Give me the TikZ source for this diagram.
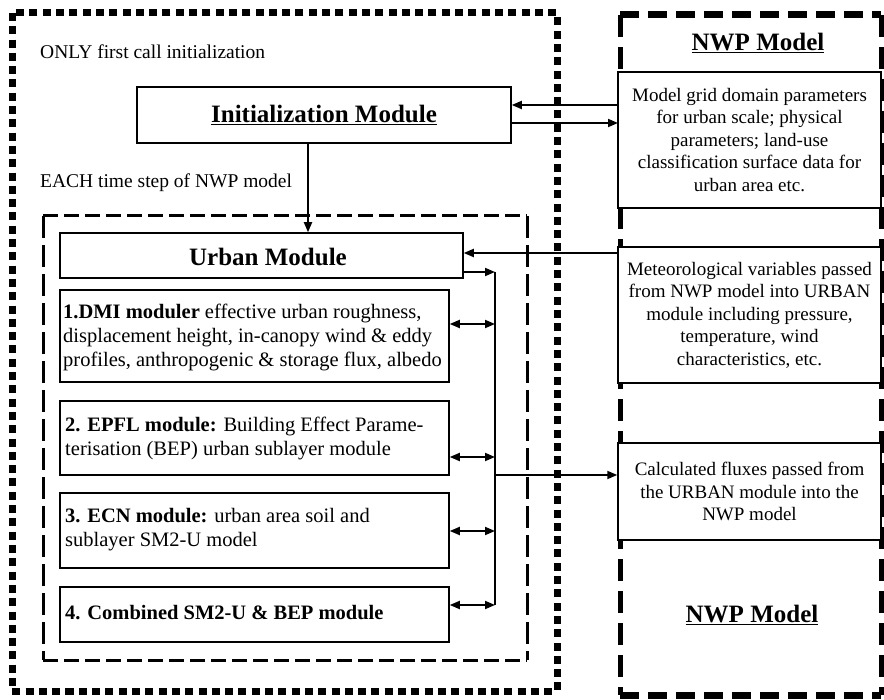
\documentclass[tikz,border=0pt]{standalone}
\usepackage{fontspec}
\setmainfont{Liberation Serif}
\usetikzlibrary{arrows.meta}
\begin{document}
\begin{tikzpicture}[x=1pt,y=-1pt,
  box/.style={draw, line width=1.5pt, fill=white, inner sep=0pt},
  tip/.style={-{Triangle[length=10pt,width=8pt]}},
  conn/.style={line width=1.8pt, tip},
  biconn/.style={line width=1.8pt, {Triangle[length=10pt,width=8pt]}-{Triangle[length=10pt,width=8pt]}},
  title/.style={font=\fontsize{25}{28}\selectfont\bfseries},
  lbl/.style={font=\fontsize{19.5}{22}\selectfont, anchor=west, inner sep=0pt},
  modtext/.style={font=\fontsize{20.5}{24}\selectfont, align=left, anchor=west, inner sep=0pt},
  nwptext/.style={font=\fontsize{19}{22.5}\selectfont, align=center},
  dotgroup/.style={line width=7pt, dash pattern=on 8pt off 5.3pt},
  nwphgroup/.style={line width=7pt, dash pattern=on 19pt off 9pt},
  nwpvgroup/.style={line width=5pt, dash pattern=on 22pt off 10pt},
  urbhgroup/.style={line width=3pt, dash pattern=on 15pt off 6pt},
  urbvgroup/.style={line width=3pt, dash pattern=on 22pt off 7pt},
]
\useasboundingbox (0,0) rectangle (884,700);

% coupling-code region (left) and host model region (right)
\draw[dotgroup] (12,13) rectangle (557,691);
\draw[nwphgroup] (620,15) -- (881,15);
\draw[nwphgroup] (620,695) -- (881,695);
\draw[nwpvgroup] (620,15) -- (620,695);
\draw[nwpvgroup] (881,15) -- (881,695);

% urban module group
\draw[urbhgroup] (43,216) -- (527,216);
\draw[urbhgroup] (43,660) -- (527,660);
\draw[urbvgroup] (43,216) -- (43,660);
\draw[urbvgroup] (527,216) -- (527,660);

% section labels
\node[lbl] (once) at (40,52) {ONLY first call initialization};
\node[lbl] (each) at (40,183) {EACH time step of NWP model};
\node[title] (nwptop) at (758,43) {\underline{NWP Model}};
\node[title] (nwpbot) at (752,615) {\underline{NWP Model}};

% initialization and urban modules
\node[box, minimum width=374pt, minimum height=56pt, title] (init) at (324,115) {\underline{Initialization Module}};
\node[box, minimum width=403pt, minimum height=45pt] (urban) at (261.5,255.5) {};
\node[title] (urbant) at (268,257) {Urban Module};

\node[box, minimum width=389pt, minimum height=92pt] (m1) at (254.5,336) {};
\node[modtext] (m1t) at (63,337.5) {\textbf{1.DMI moduler} effective urban roughness,\\displacement height, in-canopy wind \& eddy\\profiles, anthropogenic \& storage flux, albedo};
\node[box, minimum width=389pt, minimum height=74pt] (m2) at (254.5,438) {};
\node[modtext] (m2t) at (65,438.5) {\textbf{2. EPFL module:} Building Effect Parame-\\terisation (BEP) urban sublayer module};
\node[box, minimum width=389pt, minimum height=75pt] (m3) at (254.5,530.5) {};
\node[modtext] (m3t) at (65,530) {\textbf{3. ECN module:} urban area soil and\\sublayer SM2-U model};
\node[box, minimum width=389pt, minimum height=55pt] (m4) at (254.5,614.5) {};
\node[modtext] (m4t) at (65,613) {\textbf{4. Combined SM2-U \& BEP module}};

% host model data boxes
\node[box, minimum width=263pt, minimum height=136pt, nwptext] (nwp1) at (749.5,140) {Model grid domain parameters\\for urban scale; physical\\parameters; land-use\\classification surface data for\\urban area etc.};
\node[box, minimum width=263pt, minimum height=136pt, nwptext] (nwp2) at (749.5,315) {Meteorological variables passed\\from NWP model into URBAN\\module including pressure,\\temperature, wind\\characteristics, etc.};
\node[box, minimum width=263pt, minimum height=97pt, nwptext] (nwp3) at (749.5,491.5) {Calculated fluxes passed from\\the URBAN module into the\\NWP model};

% connector anchor points
\coordinate (inA) at (618,105);
\coordinate (inB) at (618,123);
\coordinate (down) at (308,0);
\coordinate (met) at (618,253);
\coordinate (bustop) at (495,272);
\coordinate (bus1) at (495,324);
\coordinate (bus2) at (495,457);
\coordinate (bus3) at (495,531);
\coordinate (busbot) at (495,605);
\coordinate (flux) at (495,475);

% connectors
\draw[conn] (inA) -- (init.east |- inA);
\draw[conn] (init.east |- inB) -- (inB);
\draw[conn] (init.south -| down) -- (urban.north -| down);
\draw[conn] (met) -- (urban.east |- met);
\draw[line width=1.8pt] (bustop) -- (busbot);
\draw[conn] (urban.east |- bustop) -- (bustop);
\draw[biconn] (m1.east |- bus1) -- (bus1);
\draw[biconn] (m2.east |- bus2) -- (bus2);
\draw[biconn] (m3.east |- bus3) -- (bus3);
\draw[biconn] (m4.east |- busbot) -- (busbot);
\draw[conn] (flux) -- (nwp3.west |- flux);
\end{tikzpicture}
\end{document}
